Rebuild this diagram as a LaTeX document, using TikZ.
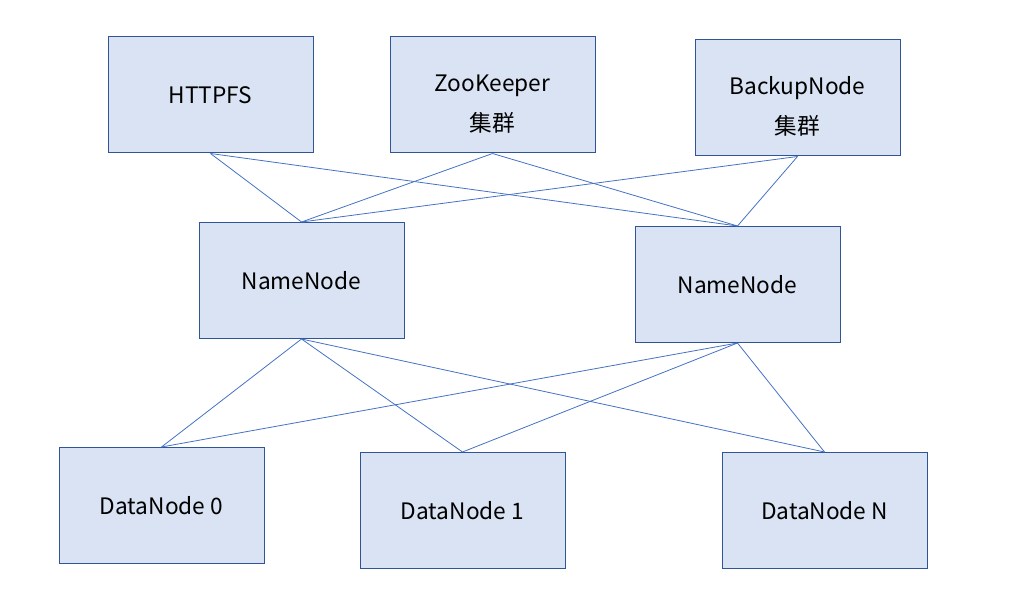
\documentclass[tikz,border=0pt]{standalone}
\usepackage{fontspec}
\setmainfont{Noto Sans CJK SC}
\definecolor{boxfill}{RGB}{218,227,243}
\definecolor{boxline}{RGB}{47,85,151}
\definecolor{linkline}{RGB}{68,114,196}
\tikzset{
	box/.style={draw=boxline,fill=boxfill,line width=0.75pt,minimum width=153.75pt,minimum height=87pt,inner sep=0.75pt,align=center,font=\fontsize{17}{29.5}\selectfont},
	link/.style={draw=linkline,line width=0.6pt}
}
\begin{document}
\begin{tikzpicture}[x=0.75pt,y=0.75pt,yscale=-1,xscale=1]
	\useasboundingbox (0,0) rectangle (1015,610);

	\node [box] (httpfs) at (210.5,95) {HTTPFS};
	\node [box] (zookeeper) at (492.5,95) {\rule{0pt}{26pt}ZooKeeper\\集群};
	\node [box] (backup) at (797.5,98) {\rule{0pt}{26pt}BackupNode\\集群};
	\node [box] (nnleft) at (301.5,280.5) {NameNode};
	\node [box] (nnright) at (737.5,284.5) {NameNode};
	\node [box] (dnzero) at (161.5,505.5) {DataNode 0};
	\node [box] (dnone) at (462.5,510.5) {DataNode 1};
	\node [box] (dnn) at (824.5,510.5) {DataNode N};

	\draw [link] (httpfs.south) -- (nnleft.north);
	\draw [link] (httpfs.south) -- (nnright.north);
	\draw [link] (zookeeper.south) -- (nnleft.north);
	\draw [link] (zookeeper.south) -- (nnright.north);
	\draw [link] (backup.south) -- (nnleft.north);
	\draw [link] (backup.south) -- (nnright.north);

	\draw [link] (nnleft.south) -- (dnzero.north);
	\draw [link] (nnleft.south) -- (dnone.north);
	\draw [link] (nnleft.south) -- (dnn.north);
	\draw [link] (nnright.south) -- (dnzero.north);
	\draw [link] (nnright.south) -- (dnone.north);
	\draw [link] (nnright.south) -- (dnn.north);
\end{tikzpicture}
\end{document}
